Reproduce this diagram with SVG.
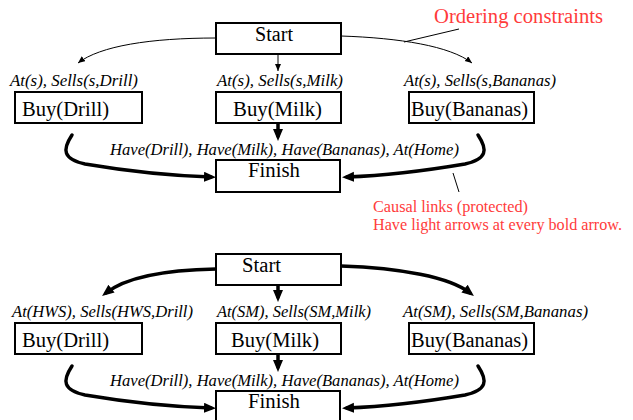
<svg xmlns="http://www.w3.org/2000/svg" width="633" height="420" viewBox="0 0 633 420">
<style>
text{font-family:"Liberation Serif","Tinos","Times New Roman","DejaVu Serif",serif}
.box{fill:#fff;stroke:#000;stroke-width:2}
.lbl{font-size:20.5px;fill:#000}
.cond{font-style:italic;font-size:16.6px;fill:#000}
.red{fill:#ff3b3b}
.thin{fill:none;stroke:#000;stroke-width:1}
.bold{fill:none;stroke:#000;stroke-width:3.5;stroke-linecap:round}
</style>
<defs>
<marker id="ah" markerUnits="userSpaceOnUse" markerWidth="8" markerHeight="7" refX="7" refY="3" orient="auto"><path d="M0,0 L7,3 L0,6 z" fill="#000"/></marker>
<marker id="ahb" markerUnits="userSpaceOnUse" markerWidth="13" markerHeight="11" refX="7" refY="5" orient="auto"><path d="M0,0 L12,5 L0,10 z" fill="#000"/></marker>
</defs>
<rect width="633" height="420" fill="#fff"/>

<g id="connectors">
<path class="thin" d="M216,38 C150,38 100,46 78,63" marker-end="url(#ah)"/>
<path class="thin" d="M278,54 L278,71" marker-end="url(#ah)"/>
<path class="thin" d="M341,36 C400,38 450,46 472,63" marker-end="url(#ah)"/>
<path class="bold" d="M72,135 C62,150 63,159 85,164 Q150,175 211,177" marker-end="url(#ahb)"/>
<path class="bold" d="M278,123 L278,136" marker-end="url(#ahb)"/>
<path class="bold" d="M478,135 C488,150 487,159 465,164 Q400,175 347,177" marker-end="url(#ahb)"/>
<path class="thin" d="M459,29 L404,42"/>
<path class="thin" d="M453,173 L459,192"/>
<path class="bold" d="M216,269 C160,270 125,278 106,293" marker-end="url(#ahb)"/>
<path class="bold" d="M278,285 L278,297" marker-end="url(#ahb)"/>
<path class="bold" d="M341,266 C400,268 450,277 470,293" marker-end="url(#ahb)"/>
<path class="bold" d="M72,366 C62,381 63,390 85,395 Q150,406 211,408" marker-end="url(#ahb)"/>
<path class="bold" d="M278,354 L278,367" marker-end="url(#ahb)"/>
<path class="bold" d="M478,366 C488,381 487,390 465,395 Q400,406 347,408" marker-end="url(#ahb)"/>
</g>

<g id="start1"><rect class="box" x="216" y="23" width="125" height="31"/><text class="lbl" x="255" y="41" textLength="38" lengthAdjust="spacingAndGlyphs">Start</text></g>
<g id="drill1">
<text class="cond" x="10" y="86" textLength="128" lengthAdjust="spacingAndGlyphs">At(s), Sells(s,Drill)</text>
<rect class="box" x="15" y="92" width="127" height="31"/><text class="lbl" x="22" y="116" textLength="87" lengthAdjust="spacingAndGlyphs">Buy(Drill)</text></g>
<g id="milk1">
<text class="cond" x="217" y="86" textLength="126" lengthAdjust="spacingAndGlyphs">At(s), Sells(s,Milk)</text>
<rect class="box" x="216" y="92" width="125" height="31"/><text class="lbl" x="233" y="116" textLength="89" lengthAdjust="spacingAndGlyphs">Buy(Milk)</text></g>
<g id="bananas1">
<text class="cond" x="404" y="86" textLength="152" lengthAdjust="spacingAndGlyphs">At(s), Sells(s,Bananas)</text>
<rect class="box" x="409" y="92" width="125" height="31"/><text class="lbl" x="411" y="116" textLength="117" lengthAdjust="spacingAndGlyphs">Buy(Bananas)</text></g>
<g id="finish1">
<text class="cond" x="110" y="155" textLength="349" lengthAdjust="spacingAndGlyphs">Have(Drill), Have(Milk), Have(Bananas), At(Home)</text>
<rect class="box" x="216" y="160" width="124" height="32"/><text class="lbl" x="248" y="177" textLength="52" lengthAdjust="spacingAndGlyphs">Finish</text></g>

<g id="notes">
<text class="red" x="434" y="23" font-size="20.5" textLength="169" lengthAdjust="spacingAndGlyphs">Ordering constraints</text>
<text class="red" x="373" y="212" font-size="16" textLength="155" lengthAdjust="spacingAndGlyphs">Causal links (protected)</text>
<text class="red" x="373" y="230" font-size="16" textLength="249" lengthAdjust="spacingAndGlyphs">Have light arrows at every bold arrow.</text>
</g>

<g id="start2"><rect class="box" x="216" y="254" width="125" height="31"/><text class="lbl" x="242" y="272" textLength="39" lengthAdjust="spacingAndGlyphs">Start</text></g>
<g id="drill2">
<text class="cond" x="12" y="317" textLength="181" lengthAdjust="spacingAndGlyphs">At(HWS), Sells(HWS,Drill)</text>
<rect class="box" x="15" y="323" width="127" height="31"/><text class="lbl" x="22" y="347" textLength="87" lengthAdjust="spacingAndGlyphs">Buy(Drill)</text></g>
<g id="milk2">
<text class="cond" x="217" y="317" textLength="154" lengthAdjust="spacingAndGlyphs">At(SM), Sells(SM,Milk)</text>
<rect class="box" x="216" y="323" width="125" height="31"/><text class="lbl" x="231" y="347" textLength="88" lengthAdjust="spacingAndGlyphs">Buy(Milk)</text></g>
<g id="bananas2">
<text class="cond" x="403" y="317" textLength="185" lengthAdjust="spacingAndGlyphs">At(SM), Sells(SM,Bananas)</text>
<rect class="box" x="409" y="323" width="125" height="31"/><text class="lbl" x="411" y="347" textLength="117" lengthAdjust="spacingAndGlyphs">Buy(Bananas)</text></g>
<g id="finish2">
<text class="cond" x="110" y="386" textLength="349" lengthAdjust="spacingAndGlyphs">Have(Drill), Have(Milk), Have(Bananas), At(Home)</text>
<rect class="box" x="216" y="391" width="124" height="32"/><text class="lbl" x="248" y="408" textLength="52" lengthAdjust="spacingAndGlyphs">Finish</text></g>
</svg>
